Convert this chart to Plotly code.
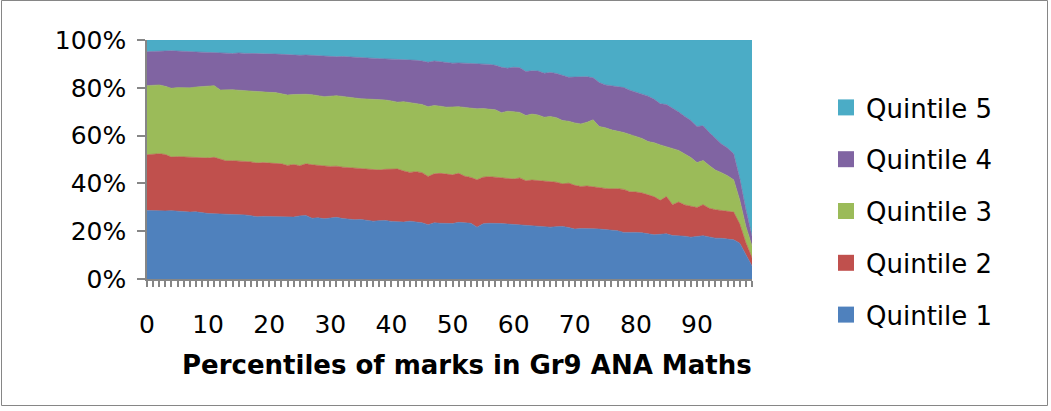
import plotly.graph_objects as go

# Percentile categories (0..99)
percentiles = list(range(100))
tick_values = [0, 10, 20, 30, 40, 50, 60, 70, 80, 90]
tick_labels = ["0", "10", "20", "30", "40", "50", "60", "70", "80", "90"]
y_tick_values = [0, 20, 40, 60, 80, 100]
y_tick_labels = ["0%", "20%", "40%", "60%", "80%", "100%"]

# Cumulative share (%): top edge of each quintile band
top_q1 = [28.7, 28.6, 28.4, 28.5, 28.6, 28.3, 28.2, 28.0, 28.1, 27.7,
          27.4, 27.3, 27.2, 27.0, 26.9, 27.1, 26.8, 26.5, 26.0, 26.2,
          26.1, 25.9, 25.8, 25.7, 25.9, 26.4, 26.6, 25.4, 25.6, 25.2,
          25.5, 25.8, 25.3, 25.0, 24.8, 24.9, 24.5, 24.2, 24.4, 24.5,
          24.1, 24.0, 23.8, 24.2, 24.0, 23.5, 22.7, 23.5, 23.3, 23.1,
          23.2, 23.7, 23.5, 23.3, 21.7, 23.1, 23.3, 23.4, 23.2, 23.0,
          22.8, 22.7, 22.6, 22.5, 22.3, 22.0, 21.7, 21.9, 22.0, 21.5,
          20.9, 21.1, 21.2, 21.0, 20.9, 20.7, 20.6, 20.2, 19.5, 19.6,
          19.5, 19.3, 18.9, 18.5, 18.7, 18.9, 18.2, 18.1, 17.9, 17.5,
          17.8, 18.1, 17.6, 17.1, 17.0, 16.8, 16.4, 15.0, 10.5, 5.4]

top_q2 = [52.0, 52.2, 52.4, 52.1, 51.0, 51.2, 51.1, 51.0, 51.1, 50.9,
          50.6, 50.9, 50.2, 49.4, 49.5, 49.4, 49.3, 49.0, 48.5, 48.7,
          48.5, 48.4, 48.2, 47.5, 47.9, 47.4, 48.2, 47.8, 47.4, 47.3,
          47.1, 47.2, 46.8, 46.6, 46.4, 46.5, 46.2, 46.0, 45.6, 45.9,
          45.8, 46.0, 45.2, 44.6, 44.9, 44.5, 42.9, 44.0, 44.2, 43.9,
          43.6, 44.2, 43.0, 42.5, 41.5, 42.6, 42.8, 42.6, 42.3, 42.0,
          41.8, 42.3, 41.1, 41.4, 41.2, 40.8, 40.9, 40.5, 39.8, 40.1,
          39.2, 38.7, 38.9, 38.5, 38.3, 37.9, 37.7, 37.8, 37.5, 36.5,
          36.4, 36.0, 35.2, 34.4, 32.9, 34.5, 31.1, 32.2, 31.0, 30.4,
          29.9, 31.1, 29.6, 29.0, 28.6, 28.3, 28.0, 23.0, 15.2, 8.9]

top_q3 = [80.9, 81.1, 81.2, 80.6, 79.8, 80.1, 79.9, 80.0, 80.3, 80.4,
          80.5, 80.9, 79.1, 79.3, 79.2, 79.0, 78.8, 78.4, 78.5, 78.3,
          78.1, 78.0, 77.6, 77.0, 77.2, 77.4, 77.3, 77.1, 76.6, 76.3,
          76.5, 76.7, 76.4, 76.0, 75.6, 75.4, 75.3, 75.2, 75.3, 74.9,
          74.5, 74.0, 74.2, 73.8, 73.5, 73.0, 72.1, 72.6, 72.3, 71.9,
          72.0, 72.1, 71.8, 71.5, 71.2, 71.3, 71.0, 70.8, 69.6, 70.2,
          70.0, 69.7, 68.4, 69.0, 68.6, 67.7, 68.0, 67.5, 66.3, 66.0,
          65.3, 64.9, 65.6, 66.6, 63.8, 63.3, 62.4, 62.0, 61.3, 60.5,
          59.6, 58.8, 57.5, 57.0, 56.1, 55.4, 54.6, 53.8, 52.3, 50.8,
          48.7, 49.6, 47.5, 45.6, 44.5, 43.2, 41.5, 33.0, 22.0, 13.8]

top_q4 = [95.1, 95.3, 95.2, 95.4, 95.5, 95.3, 95.2, 95.1, 95.0, 94.9,
          94.8, 95.0, 94.7, 94.5, 94.3, 94.6, 94.4, 94.5, 94.3, 94.2,
          94.0, 94.1, 94.0, 93.8, 93.9, 93.6, 93.7, 93.5, 93.4, 93.3,
          93.2, 93.0, 93.1, 92.9, 92.7, 92.6, 92.4, 92.3, 92.2, 92.1,
          92.0, 91.9, 91.9, 91.7, 91.5, 91.2, 90.7, 91.2, 90.9, 90.6,
          90.3, 90.4, 90.3, 90.1, 90.0, 89.9, 89.8, 89.4, 88.6, 88.2,
          88.6, 88.4, 86.8, 87.1, 87.0, 86.1, 86.4, 86.0, 85.2, 84.4,
          84.5, 84.6, 84.6, 84.2, 82.2, 81.2, 80.8, 80.6, 80.1, 79.0,
          78.2, 77.4, 76.5, 75.2, 73.3, 73.0, 71.5, 69.9, 68.0, 66.3,
          63.8, 64.1, 61.3, 59.0, 56.5, 54.8, 52.4, 42.0, 29.0, 17.9]

top_q5 = [100.0] * 100  # 100% stacked chart

series_names = ["Quintile 1", "Quintile 2", "Quintile 3", "Quintile 4", "Quintile 5"]
series_tops = [top_q1, top_q2, top_q3, top_q4, top_q5]
series_colors = ["#4F81BD", "#C0504D", "#9BBB59", "#8064A2", "#4BACC6"]

fig = go.Figure()
for i, (name, ys, col) in enumerate(zip(series_names, series_tops, series_colors)):
    fig.add_trace(go.Scatter(
        x=percentiles, y=ys, name=name,
        mode="lines",
        line=dict(color=col, width=0.6),
        fill="tozeroy" if i == 0 else "tonexty",
        fillcolor=col,
        showlegend=False,
    ))

# Legend entries (square swatches), top to bottom: Quintile 5 .. Quintile 1
for name, col in reversed(list(zip(series_names, series_colors))):
    fig.add_trace(go.Scatter(
        x=[None], y=[None], name=name, mode="markers",
        marker=dict(symbol="square", size=16, color=col),
        legendgroup=name, showlegend=True,
    ))

W, H = 1051, 411
L, R, T, B = 147, 299, 40, 132
pw, ph = W - L - R, H - T - B

def px_x(p):
    return (p - L) / pw

def px_y(p):
    return (H - B - p) / ph

axis_font = dict(family="DejaVu Sans", size=25, color="#000000")

fig.update_layout(
    width=W, height=H,
    margin=dict(l=L, r=R, t=T, b=B, pad=0),
    paper_bgcolor="white", plot_bgcolor="white",
    showlegend=True,
    legend=dict(
        x=px_x(826), y=px_y(84), xanchor="left", yanchor="top",
        traceorder="grouped", tracegroupgap=15, maxheight=400,
        font=dict(family="DejaVu Sans", size=26, color="#000000"),
        bgcolor="rgba(0,0,0,0)", itemwidth=30,
    ),
    xaxis=dict(
        range=[0, 99], tickmode="array", tickvals=tick_values, ticktext=tick_labels,
        showgrid=False, zeroline=False, showline=True, linecolor="#868686", linewidth=1.5,
        ticks="outside", ticklen=6, tickwidth=2, tickcolor="#868686",
        minor=dict(dtick=1, tick0=0, ticks="outside", ticklen=6, tickwidth=2, tickcolor="#868686", showgrid=False),
        tickfont=axis_font, ticklabelstandoff=16,
    ),
    yaxis=dict(
        range=[0, 100], tickmode="array", tickvals=y_tick_values, ticktext=y_tick_labels,
        showgrid=True, gridcolor="#C8C8C8", gridwidth=1, zeroline=False,
        showline=True, linecolor="#868686", linewidth=1.5,
        ticks="outside", ticklen=8, tickwidth=1.5, tickcolor="#868686",
        tickfont=axis_font, ticklabelstandoff=6,
    ),
    annotations=[dict(
        text="<b>Percentiles of marks in Gr9 ANA Maths</b>",
        xref="paper", yref="paper", x=px_x(467), y=px_y(365),
        xanchor="center", yanchor="middle", showarrow=False,
        font=dict(family="DejaVu Sans", size=26, color="#000000"),
    )],
    shapes=[dict(
        type="rect", xref="paper", yref="paper",
        x0=px_x(1.5), x1=px_x(1047.5), y0=px_y(405.5), y1=px_y(0.5),
        line=dict(color="#868686", width=1), fillcolor="rgba(0,0,0,0)", layer="below",
    )],
)

fig.write_html("out.html")
